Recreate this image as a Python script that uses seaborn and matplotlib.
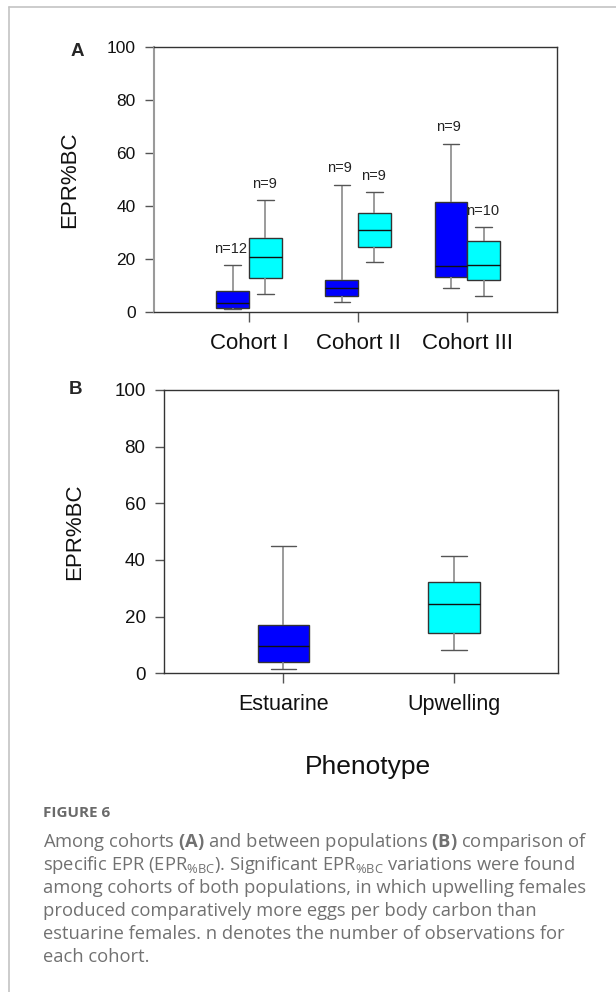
import numpy as np
import pandas as pd
import matplotlib
matplotlib.use("Agg")
import matplotlib.pyplot as plt
from matplotlib.lines import Line2D
import seaborn as sns

# ---- Panel A: EPR%BC per cohort, five-number summaries (min, Q1, median, Q3, max)
cohorts = ["Cohort I", "Cohort II", "Cohort III"]
populations = ["Estuarine", "Upwelling"]

est_min = [1.4, 3.8, 9.3]
est_q1 = [1.6, 6.0, 13.2]
est_med = [3.6, 9.0, 17.3]
est_q3 = [8.0, 12.2, 41.8]
est_max = [17.7, 48.2, 63.6]
est_n = [12, 9, 9]

upw_min = [7.0, 18.9, 6.3]
upw_q1 = [12.9, 24.7, 12.0]
upw_med = [20.7, 31.1, 17.7]
upw_q3 = [28.2, 37.5, 27.0]
upw_max = [42.3, 45.4, 32.1]
upw_n = [9, 9, 10]

# ---- Panel B: pooled by phenotype
phen_min = [1.5, 8.1]
phen_q1 = [3.9, 14.1]
phen_med = [9.5, 24.4]
phen_q3 = [17.1, 32.2]
phen_max = [44.8, 41.4]

yticks = [0, 20, 40, 60, 80, 100]
colors = {"Estuarine": "#0000ff", "Upwelling": "#00ffff"}

caption_title = "FIGURE 6"
caption_lines = [
    r"Among cohorts $\mathbf{(A)}$ and between populations $\mathbf{(B)}$ comparison of",
    r"specific EPR (EPR$_{\%\mathrm{BC}}$). Significant EPR$_{\%\mathrm{BC}}$ variations were found",
    "among cohorts of both populations, in which upwelling females",
    "produced comparatively more eggs per body carbon than",
    "estuarine females. n denotes the number of observations for",
    "each cohort.",
]


def summary_rows(group_key, group, pop, mn, q1, md, q3, mx):
    # a five-value sample whose quartiles and extremes are exactly the summary
    return [{group_key: group, "population": pop, "value": v} for v in (mn, q1, md, q3, mx)]


rows_a = []
for i, c in enumerate(cohorts):
    rows_a += summary_rows("cohort", c, "Estuarine", est_min[i], est_q1[i], est_med[i], est_q3[i], est_max[i])
    rows_a += summary_rows("cohort", c, "Upwelling", upw_min[i], upw_q1[i], upw_med[i], upw_q3[i], upw_max[i])
df_a = pd.DataFrame(rows_a)

rows_b = []
for i, p in enumerate(populations):
    rows_b += summary_rows("phenotype", p, p, phen_min[i], phen_q1[i], phen_med[i], phen_q3[i], phen_max[i])
df_b = pd.DataFrame(rows_b)

sns.set_style("ticks")
plt.rcParams["font.family"] = ["Liberation Sans", "DejaVu Sans"]
plt.rcParams["mathtext.fontset"] = "custom"
plt.rcParams["mathtext.rm"] = "Open Sans"
plt.rcParams["mathtext.bf"] = "Open Sans:bold"
plt.rcParams["mathtext.it"] = "Open Sans:italic"

fig = plt.figure(figsize=(6.16, 9.92), dpi=100)
W, H = 616.0, 992.0


def px_axes(x0, y0, x1, y1):
    return fig.add_axes([x0 / W, 1 - y1 / H, (x1 - x0) / W, (y1 - y0) / H])


ax_a = px_axes(154.3, 47.3, 556.7, 312.3)
ax_b = px_axes(164.3, 390.0, 557.7, 673.3)

box_kws = dict(
    whis=np.inf, showfliers=False, saturation=1, linecolor="#333333", linewidth=1.0,
    medianprops=dict(color="#111111", linewidth=1.0),
    whiskerprops=dict(color="#8a8a8a", linewidth=1.2),
    capprops=dict(color="#555555", linewidth=1.0),
    legend=False,
)

sns.boxplot(data=df_a, x="cohort", y="value", hue="population", hue_order=populations,
            order=cohorts, palette=colors, width=0.6, gap=0, dodge=True, ax=ax_a, **box_kws)
sns.boxplot(data=df_b, x="phenotype", y="value", hue="phenotype", hue_order=populations,
            order=populations, palette=colors, width=0.3, dodge=False, ax=ax_b, **box_kws)

# sample-size labels above each cohort box
for i in range(len(cohorts)):
    ax_a.text(i - 0.17, est_max[i] + 6.2, f"n={est_n[i]}", ha="center", va="center",
              fontsize=10.5, color="#222222")
    ax_a.text(i + 0.14, upw_max[i] + 6.2, f"n={upw_n[i]}", ha="center", va="center",
              fontsize=10.5, color="#222222")

ax_a.set_xlim(-0.867, 2.819)
ax_b.set_xlim(-0.699, 1.608)

for ax, ytick_size, xtick_size in ((ax_a, 12.5, 16), (ax_b, 13.5, 15.5)):
    ax.set_ylim(0, 100)
    ax.set_yticks(yticks)
    ax.set_yticklabels([str(t) for t in yticks])
    ax.tick_params(axis="y", length=6.5, width=1.0, color="#555555", pad=7,
                   labelsize=ytick_size, labelcolor="#111111")
    ax.tick_params(axis="x", length=7, width=1.0, color="#555555", pad=8,
                   labelsize=xtick_size, labelcolor="#111111")
    for s in ax.spines.values():
        s.set_visible(True)
        s.set_color("#333333")
        s.set_linewidth(1.0)
    ax.set_ylabel("EPR%BC", fontsize=16, color="#111111")
    ax.set_xlabel("")

ax_a.spines["left"].set_color("#9a9a9a")
ax_a.spines["left"].set_linewidth(1.5)
ax_a.yaxis.set_label_coords((80 - 154.3) / (556.7 - 154.3), 0.5)
ax_b.yaxis.set_label_coords((85 - 164.3) / (557.7 - 164.3), 0.5)

ax_b.set_xlabel("Phenotype", fontsize=19, color="#111111")
ax_b.xaxis.set_label_coords((367.8 - 164.3) / (557.7 - 164.3), (673.3 - 767) / (673.3 - 390))
ax_b.xaxis.label.set_va("center")

fig.text(77 / W, 1 - 52 / H, "A", fontsize=13.5, fontweight="bold", ha="center", va="center")
fig.text(76 / W, 1 - 389 / H, "B", fontsize=13.5, fontweight="bold", ha="center", va="center")

# page frame
fig.add_artist(Line2D([9 / W, 9 / W], [0, 1 - 7 / H], transform=fig.transFigure,
                      color="#c4c4c4", linewidth=1.2))
fig.add_artist(Line2D([9 / W, 1], [1 - 7 / H, 1 - 7 / H], transform=fig.transFigure,
                      color="#c4c4c4", linewidth=1.2))

# caption
fig.text(42.7 / W, 1 - 817 / H, caption_title, fontsize=11, fontweight="bold",
         family=["Open Sans", "DejaVu Sans"], color="#6a6a6a", va="baseline")
for k, line in enumerate(caption_lines):
    fig.text(42.7 / W, 1 - (847 + 23 * k) / H, line, fontsize=13.2,
             family=["Open Sans", "DejaVu Sans"], color="#717171", va="baseline")

fig.savefig("out.png", dpi=100)
